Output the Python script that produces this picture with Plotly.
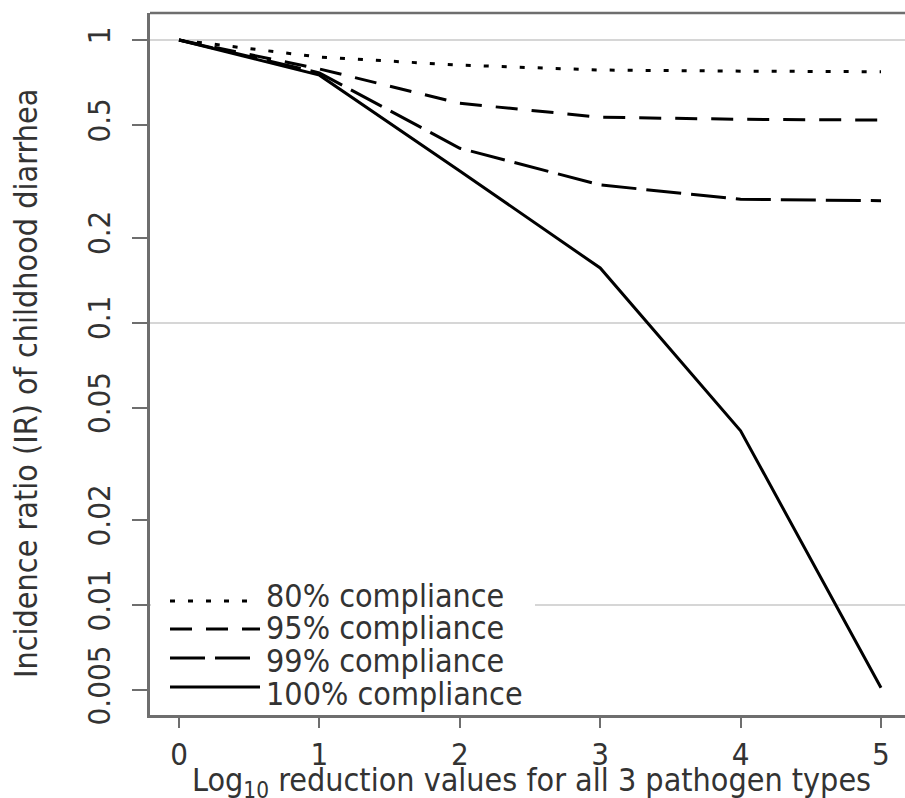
import plotly.graph_objects as go

# ---- data ----
reduction = [0, 1, 2, 3, 4, 5]
ir_80 = [1.0, 0.870, 0.815, 0.783, 0.776, 0.772]
ir_95 = [1.0, 0.790, 0.597, 0.533, 0.524, 0.521]
ir_99 = [1.0, 0.765, 0.414, 0.307, 0.273, 0.270]
ir_100 = [1.0, 0.751, 0.344, 0.156, 0.0414, 0.0051]
series_names = ["80% compliance", "95% compliance", "99% compliance", "100% compliance"]
xtick_vals = [0, 1, 2, 3, 4, 5]
ytick_vals = [0.005, 0.01, 0.02, 0.05, 0.1, 0.2, 0.5, 1]
ytick_text = ["0.005", "0.01", "0.02", "0.05", "0.1", "0.2", "0.5", "1"]
ygrid_vals = [0.01, 0.1, 1]
x_title = "Log<sub>10</sub> reduction values for all 3 pathogen types"
y_title = "Incidence ratio (IR) of childhood diarrhea"

FONT = "DejaVu Sans Condensed, DejaVu Sans, sans-serif"
TXT = "#333333"
AX = "#6e6e6e"
dashes = ["5px,13px", "22px,14px", "35px,10px", "solid"]
series = [ir_80, ir_95, ir_99, ir_100]

fig = go.Figure()
for name, vals, d in zip(series_names, series, dashes):
    fig.add_trace(go.Scatter(x=reduction, y=vals, mode="lines", name=name,
                             line=dict(color="black", width=3, dash=d),
                             showlegend=False))

# plot area geometry in pixels
L, T, R, B = 150, 13, 905, 715
W, H = 905, 798

def px(xp):
    return (xp - L) / (R - L)

def py(yp):
    return (B - yp) / (B - T)

shapes = [
    # top frame line
    dict(type="line", xref="paper", yref="paper", x0=0, x1=1, y0=1, y1=1,
         line=dict(color=AX, width=2.5)),
    # legend background
    dict(type="rect", xref="paper", yref="paper", x0=px(151), x1=px(535),
         y0=py(712), y1=py(574), fillcolor="white", line=dict(width=0), layer="above"),
]
sample_y = [601, 629, 658, 687]
text_y = [596, 628, 661, 694]
annotations = []
for name, d, sy, ty in zip(series_names, dashes, sample_y, text_y):
    shapes.append(dict(type="line", xref="paper", yref="paper", x0=px(170), x1=px(260),
                       y0=py(sy), y1=py(sy), layer="above",
                       line=dict(color="black", width=3, dash=d)))
    annotations.append(dict(text=name, xref="paper", yref="paper", x=px(264), y=py(ty),
                            xanchor="left", yanchor="middle", showarrow=False,
                            font=dict(family=FONT, size=32, color=TXT)))

# axis titles
annotations.append(dict(text=y_title, xref="paper", yref="paper", x=px(26), y=py(384),
                        xanchor="center", yanchor="middle", textangle=-90,
                        showarrow=False, font=dict(family=FONT, size=32, color=TXT)))
annotations.append(dict(text=x_title, xref="paper", yref="paper", x=px(531), y=py(782),
                        xanchor="center", yanchor="middle",
                        showarrow=False, font=dict(family=FONT, size=32, color=TXT)))

fig.update_layout(
    width=W, height=H,
    margin=dict(l=L, r=W - R, t=T, b=H - B, pad=0, autoexpand=False),
    paper_bgcolor="white", plot_bgcolor="white",
    font=dict(family=FONT, size=31, color=TXT),
    shapes=shapes, annotations=annotations,
    xaxis=dict(range=[-0.2066, 5.171], tickmode="array", tickvals=xtick_vals,
               automargin=False,
               ticks="outside", ticklen=10, tickwidth=2, tickcolor=AX,
               showline=True, linecolor=AX, linewidth=3, showgrid=False, zeroline=False,
               tickfont=dict(family=FONT, size=31, color=TXT)),
    yaxis=dict(type="log", range=[-2.389, 0.0956], tickmode="array",
               automargin=False,
               tickvals=ytick_vals, ticktext=ytick_text, tickangle=-90,
               ticks="outside", ticklen=15, tickwidth=2, tickcolor=AX,
               showline=True, linecolor=AX, linewidth=3, showgrid=False, zeroline=False,
               ticklabelstandoff=10,
               tickfont=dict(family=FONT, size=31, color=TXT),
               minor=dict(tickmode="array", tickvals=ygrid_vals, showgrid=True,
                          gridcolor="#d6d6d6", gridwidth=1.5, ticks="")),
)

fig.write_html("out.html", config={"displayModeBar": False},
               post_script="document.body.style.margin='0';document.body.style.overflow='hidden';")
